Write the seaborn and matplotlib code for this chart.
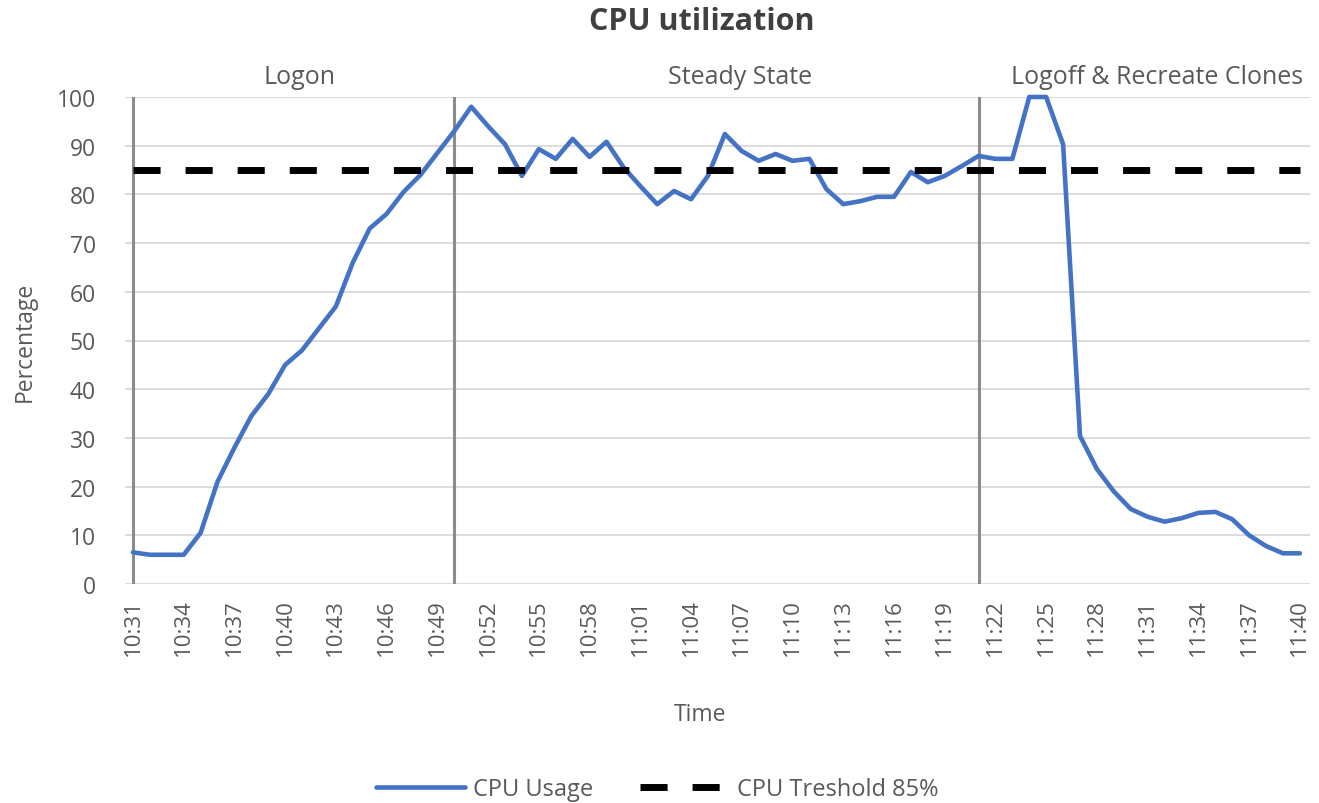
import matplotlib
matplotlib.use("Agg")
import matplotlib.pyplot as plt
import seaborn as sns
import pandas as pd
import numpy as np

# ---- data ----
start_time = "10:31"
n_minutes = 70
cpu_usage = [6.5, 6, 6, 6, 10.5, 21, 28, 34.5, 39, 45,
             48, 52.5, 57, 66, 73, 76, 80.5, 84, 88.5, 93,
             98, 94, 90.3, 83.8, 89.3, 87.3, 91.4, 87.7, 90.8, 85.6,
             81.7, 78, 80.7, 79, 83.8, 92.4, 88.9, 86.9, 88.3, 86.9,
             87.3, 81.1, 78, 78.6, 79.5, 79.5, 84.6, 82.5, 83.8, 85.8,
             87.9, 87.3, 87.3, 100, 100, 90.3, 30.4, 23.6, 19, 15.4,
             13.8, 12.8, 13.5, 14.6, 14.8, 13.3, 10, 7.8, 6.3, 6.3]
threshold = 85
tick_labels = ["10:31", "10:34", "10:37", "10:40", "10:43", "10:46", "10:49",
               "10:52", "10:55", "10:58", "11:01", "11:04", "11:07", "11:10",
               "11:13", "11:16", "11:19", "11:22", "11:25", "11:28", "11:31",
               "11:34", "11:37", "11:40"]
phases = ["Logon", "Steady State", "Logoff & Recreate Clones"]
phase_starts = ["10:31", "10:50", "11:21"]
y_ticks = [0, 10, 20, 30, 40, 50, 60, 70, 80, 90, 100]

times = pd.date_range("2000-01-01 " + start_time, periods=n_minutes, freq="min").strftime("%H:%M").tolist()
df = pd.DataFrame({"Time": times, "pos": range(n_minutes),
                   "CPU Usage": cpu_usage,
                   "CPU Treshold 85%": [threshold] * n_minutes})

sns.set_theme(style="white")
plt.rcParams["font.family"] = ["Open Sans", "DejaVu Sans"]
text_c = "#595959"

fig = plt.figure(figsize=(13.19, 8.04), dpi=100)
W, H = 1319, 804
left, right, top, bottom = 125, 1310, 98, 585
ax = fig.add_axes([left / W, 1 - bottom / H, (right - left) / W, (bottom - top) / H])

# gridlines
for y in y_ticks:
    ax.axhline(y, color="#d9d9d9", lw=1.3, zorder=0)

# phase lines
for p in phase_starts:
    ax.axvline(times.index(p), ymin=0, ymax=1, color="#8c8c8c", lw=2.2, zorder=1)

sns.lineplot(data=df, x="pos", y="CPU Usage", ax=ax, color="#4472C4", lw=3.3,
             label="CPU Usage", zorder=3, clip_on=False)
sns.lineplot(data=df, x="pos", y="CPU Treshold 85%", ax=ax, color="black", lw=5,
             label="CPU Treshold 85%", zorder=4, dashes=False)
ax.lines[-1].set_dashes((3.9, 3.6))

ax.set_xlim(-0.47, 69.6)
ax.set_ylim(0, 100)
ax.set_yticks(y_ticks)
ax.set_yticklabels([str(v) for v in y_ticks], fontsize=16.5, color=text_c)
ax.set_xticks([times.index(t) for t in tick_labels])
ax.set_xticklabels(tick_labels, rotation=90, fontsize=16, color=text_c)
ax.tick_params(axis="y", length=0, pad=21)
ax.tick_params(axis="x", length=0, pad=10)
for s in ax.spines.values():
    s.set_visible(False)

ax.set_xlabel("Time", fontsize=16.5, color=text_c)
ax.xaxis.set_label_coords((700 - left) / (right - left), -(715 - bottom) / (bottom - top))
ax.xaxis.label.set_va("center")
ax.set_ylabel("Percentage", fontsize=16.5, color=text_c)
ax.yaxis.set_label_coords(-(125 - 25) / (right - left), 0.5)
ax.yaxis.label.set_va("center")

# phase labels
phase_centers = [300, 740, 1157]
for name, cx in zip(phases, phase_centers):
    fig.text(cx / W, 1 - 77 / H, name, fontsize=18, color=text_c, ha="center", va="center")

fig.text(702 / W, 1 - 22 / H, "CPU utilization", fontsize=22, fontweight="bold",
         color="#404040", ha="center", va="center")

leg = ax.legend(loc="center", bbox_to_anchor=(657 / W, 1 - 790 / H), bbox_transform=fig.transFigure,
                ncol=2, frameon=False, fontsize=17, handlelength=3.8, columnspacing=2.0,
                handletextpad=0.3)
for t in leg.get_texts():
    t.set_color(text_c)

fig.savefig("out.png", dpi=100)
